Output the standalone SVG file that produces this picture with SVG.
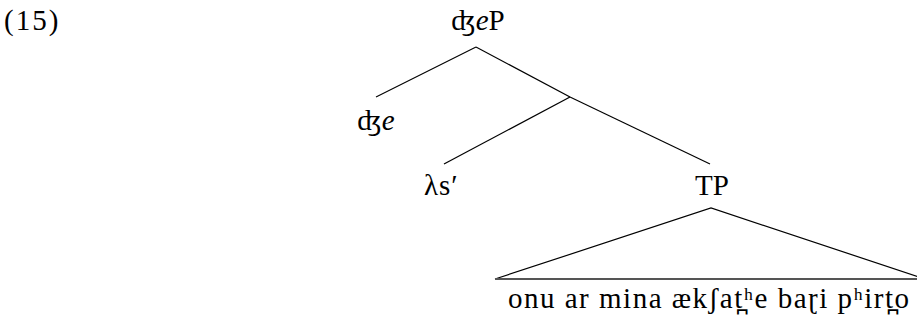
<svg xmlns="http://www.w3.org/2000/svg" width="917" height="324" viewBox="0 0 917 324">
<style>
text{font-family:"Liberation Serif","DejaVu Serif",serif;font-size:29px;fill:#000}
.c{text-anchor:middle}
.e{font-style:italic}
#connectors line,#connectors polyline{stroke:#000;stroke-width:1.2;fill:none}
</style>
<rect width="917" height="324" fill="#fff"/>
<g id="example-number"><text x="4" y="30" style="letter-spacing:2px">(15)</text></g>
<g id="connectors">
<line x1="476" y1="47" x2="376" y2="97"/>
<line x1="476" y1="47" x2="570" y2="97"/>
<line x1="570" y1="97" x2="444" y2="164"/>
<line x1="570" y1="97" x2="710" y2="164"/>
<polyline points="495,279 711,208 925,279"/>
<line x1="495" y1="279" x2="925" y2="279" style="stroke:#555;stroke-width:2"/>
</g>
<g id="node-dzeP"><text class="c" x="478" y="30">ʤ<tspan class="e">e</tspan>P</text></g>
<g id="node-dze"><text class="c" x="376" y="130">ʤ<tspan class="e">e</tspan></text></g>
<g id="node-lambda"><text x="424" y="195" style="letter-spacing:1px">λs′</text></g>
<g id="node-TP"><text class="c" x="712" y="195">TP</text></g>
<g id="node-terminal"><text x="508" y="308" style="letter-spacing:1.5px">onu ar mina ækʃat̪ʰe baɽi pʰirt̪o</text></g>
</svg>
